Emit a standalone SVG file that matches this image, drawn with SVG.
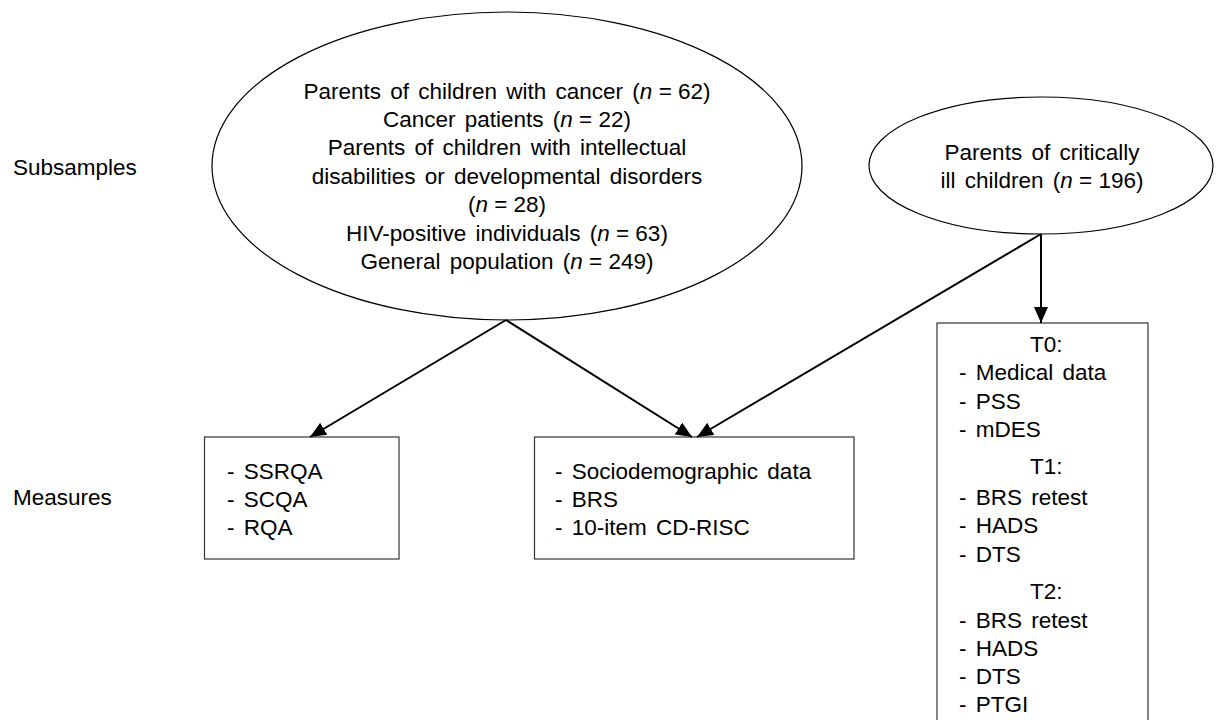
<svg xmlns="http://www.w3.org/2000/svg" width="1216" height="720" viewBox="0 0 1216 720">
  <style>
    text { font-family: "Liberation Sans", Arial, sans-serif; font-size: 22.5px; fill: #000; word-spacing: 3px; }
    .c { text-anchor: middle; }
    .i { font-style: italic; }
    .eq { word-spacing: 0; }
    .shape { fill: #fff; stroke: #000; stroke-width: 1.2; }
    .box { fill: #fff; stroke: #333; stroke-width: 1.2; }
    .link { fill: none; stroke: #000; stroke-width: 2; marker-end: url(#arrow); }
  </style>
  <defs>
    <marker id="arrow" markerUnits="userSpaceOnUse" markerWidth="16" markerHeight="14" refX="16" refY="7" orient="auto">
      <path d="M0,0 L16,7 L0,14 z" fill="#000"/>
    </marker>
  </defs>
  <rect width="1216" height="720" fill="#fff"/>

  <!-- row labels -->
  <g id="row-labels">
    <text x="13" y="175">Subsamples</text>
    <text x="13" y="505">Measures</text>
  </g>

  <!-- pooled subsamples -->
  <g id="subsamples-pooled">
    <ellipse class="shape" cx="507" cy="166" rx="295" ry="154"/>
    <text class="c" x="507" y="99">Parents of children with cancer (<tspan class="i">n</tspan><tspan class="eq"> = 62</tspan>)</text>
    <text class="c" x="507" y="127">Cancer patients (<tspan class="i">n</tspan><tspan class="eq"> = 22</tspan>)</text>
    <text class="c" x="507" y="155">Parents of children with intellectual</text>
    <text class="c" x="507" y="184">disabilities or developmental disorders</text>
    <text class="c" x="507" y="212">(<tspan class="i">n</tspan><tspan class="eq"> = 28</tspan>)</text>
    <text class="c" x="507" y="241">HIV-positive individuals (<tspan class="i">n</tspan><tspan class="eq"> = 63</tspan>)</text>
    <text class="c" x="507" y="269">General population (<tspan class="i">n</tspan><tspan class="eq"> = 249</tspan>)</text>
  </g>

  <!-- critically ill subsample -->
  <g id="subsample-critical">
    <ellipse class="shape" cx="1041" cy="165.5" rx="172" ry="68.5"/>
    <text class="c" x="1042" y="160">Parents of critically</text>
    <text class="c" x="1042" y="188">ill children (<tspan class="i">n</tspan><tspan class="eq"> = 196</tspan>)</text>
  </g>

  <!-- measures boxes -->
  <g id="measures-questionnaires">
    <rect class="box" x="204.5" y="437" width="194.5" height="122"/>
    <text x="227" y="479">- SSRQA</text>
    <text x="227" y="507">- SCQA</text>
    <text x="227" y="535">- RQA</text>
  </g>

  <g id="measures-common">
    <rect class="box" x="534.5" y="437" width="319.5" height="122"/>
    <text x="555" y="479">- Sociodemographic data</text>
    <text x="555" y="507">- BRS</text>
    <text x="555" y="535">- 10-item CD-RISC</text>
  </g>

  <g id="measures-longitudinal">
    <rect class="box" x="937" y="323" width="211" height="420"/>
    <text x="1030" y="352">T0:</text>
    <text x="959" y="380">- Medical data</text>
    <text x="959" y="409">- PSS</text>
    <text x="959" y="437">- mDES</text>
    <text x="1030" y="474">T1:</text>
    <text x="959" y="505">- BRS retest</text>
    <text x="959" y="533">- HADS</text>
    <text x="959" y="562">- DTS</text>
    <text x="1030" y="599">T2:</text>
    <text x="959" y="628">- BRS retest</text>
    <text x="959" y="656">- HADS</text>
    <text x="959" y="684">- DTS</text>
    <text x="959" y="712">- PTGI</text>
  </g>

  <!-- connectors -->
  <g id="connectors">
    <line class="link" x1="506" y1="320" x2="310" y2="437"/>
    <line class="link" x1="506" y1="320" x2="692" y2="437"/>
    <line class="link" x1="1041" y1="234" x2="697" y2="437"/>
    <line class="link" x1="1041" y1="234" x2="1041" y2="323"/>
  </g>
</svg>
